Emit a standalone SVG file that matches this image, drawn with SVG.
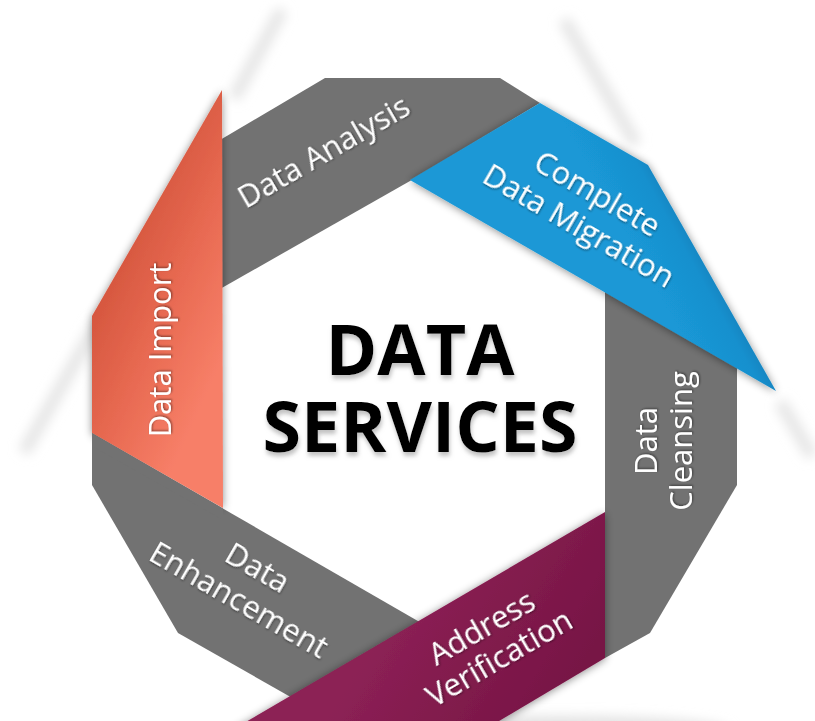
<svg xmlns="http://www.w3.org/2000/svg" width="815" height="721" viewBox="0 0 815 721">
  <defs>
    <style>
      .lbl { font-family: "Open Sans", "Liberation Sans", sans-serif; font-size: 31px; fill: #ffffff; text-anchor: middle; filter: url(#txtShadow); }
      .title { font-family: "Open Sans", "Liberation Sans", sans-serif; font-size: 70px; font-weight: 700; fill: #000000; text-anchor: middle; filter: url(#titleShadow); }
      .gray { fill: #727272; }
      .faint { fill: none; stroke: #e4e4e4; stroke-width: 12; filter: url(#softBlur); }
    </style>
    <filter id="ribbonShadow" x="-20%" y="-20%" width="140%" height="140%">
      <feDropShadow dx="0" dy="1" stdDeviation="4" flood-color="#000000" flood-opacity="0.45"/>
    </filter>
    <filter id="txtShadow" x="-10%" y="-30%" width="120%" height="160%">
      <feDropShadow dx="1" dy="1" stdDeviation="1" flood-color="#000000" flood-opacity="0.45"/>
    </filter>
    <filter id="titleShadow" x="-10%" y="-20%" width="120%" height="150%">
      <feDropShadow dx="1" dy="4" stdDeviation="2" flood-color="#9a9a9a" flood-opacity="0.6"/>
    </filter>
    <filter id="softBlur" x="-50%" y="-50%" width="200%" height="200%">
      <feGaussianBlur stdDeviation="6"/>
    </filter>
    <linearGradient id="gOrange" gradientUnits="userSpaceOnUse" x1="92" y1="300" x2="223" y2="360">
      <stop offset="0" stop-color="#d4553d"/>
      <stop offset="0.5" stop-color="#e86a52"/>
      <stop offset="1" stop-color="#f77f68"/>
    </linearGradient>
    <linearGradient id="gBlue" gradientUnits="userSpaceOnUse" x1="640" y1="262" x2="712" y2="222">
      <stop offset="0" stop-color="#1a98d6"/>
      <stop offset="0.55" stop-color="#1890ce"/>
      <stop offset="1" stop-color="#1270a8"/>
    </linearGradient>
    <linearGradient id="gPurple" gradientUnits="userSpaceOnUse" x1="400" y1="600" x2="560" y2="700">
      <stop offset="0" stop-color="#8c2155"/>
      <stop offset="1" stop-color="#771545"/>
    </linearGradient>
  </defs>

  <rect x="0" y="0" width="815" height="721" fill="#ffffff"/>

  <!-- faint backdrop shading -->
  <g id="backdrop">
    <path class="faint" d="M 234 98 L 282 10"/>
    <path class="faint" d="M 98 322 L 24 452"/>
    <path class="faint" d="M 564 20 L 636 144"/>
    <path class="faint" d="M 780 402 L 812 456"/>
    <ellipse cx="560" cy="730" rx="170" ry="14" fill="#e2e2e2" filter="url(#softBlur)"/>
  </g>

  <g id="node-data-analysis">
    <polygon class="gray" points="220,140 325,78 500,78 540,103 410,181 220,289"/>
    <text class="lbl" transform="translate(329,161) rotate(-30)">Data Analysis</text>
  </g>

  <g id="node-data-cleansing">
    <polygon class="gray" fill="#757575" points="605,288 737,360 737,485 650,633 605,658"/>
    <text class="lbl" transform="translate(657,441) rotate(-90)"><tspan x="0" y="0">Data</tspan><tspan x="0" y="35">Cleansing</tspan></text>
  </g>

  <g id="node-data-enhancement">
    <polygon class="gray" points="92,433 430,628 340,725 178,633 92,485"/>
    <text class="lbl" transform="translate(252,577) rotate(30)"><tspan x="0" y="0">Data</tspan><tspan x="0" y="37">Enhancement</tspan></text>
  </g>

  <g id="node-data-import">
    <polygon fill="url(#gOrange)" filter="url(#ribbonShadow)" points="222,90 223,508 92,433 92,316"/>
    <polygon class="gray" points="92,433 223,508.6 223,520 92,446"/>
    <text class="lbl" transform="translate(171,350) rotate(-90)">Data Import</text>
  </g>

  <g id="node-complete-data-migration">
    <polygon fill="url(#gBlue)" filter="url(#ribbonShadow)" points="410,180 540,103 648,165 776,391"/>
    <text class="lbl" transform="translate(592,203) rotate(30)"><tspan x="0" y="0">Complete</tspan><tspan x="0" y="37">Data Migration</tspan></text>
  </g>

  <g id="node-address-verification">
    <polygon fill="url(#gPurple)" filter="url(#ribbonShadow)" points="605,512 605,658 484,730 232,730"/>
    <text class="lbl" transform="translate(487,637) rotate(-30)"><tspan x="0" y="0">Address</tspan><tspan x="0" y="35">Verification</tspan></text>
  </g>

  <g id="node-title">
    <text class="title"><tspan x="420" y="375">DATA</tspan><tspan x="420" y="452">SERVICES</tspan></text>
  </g>
</svg>
